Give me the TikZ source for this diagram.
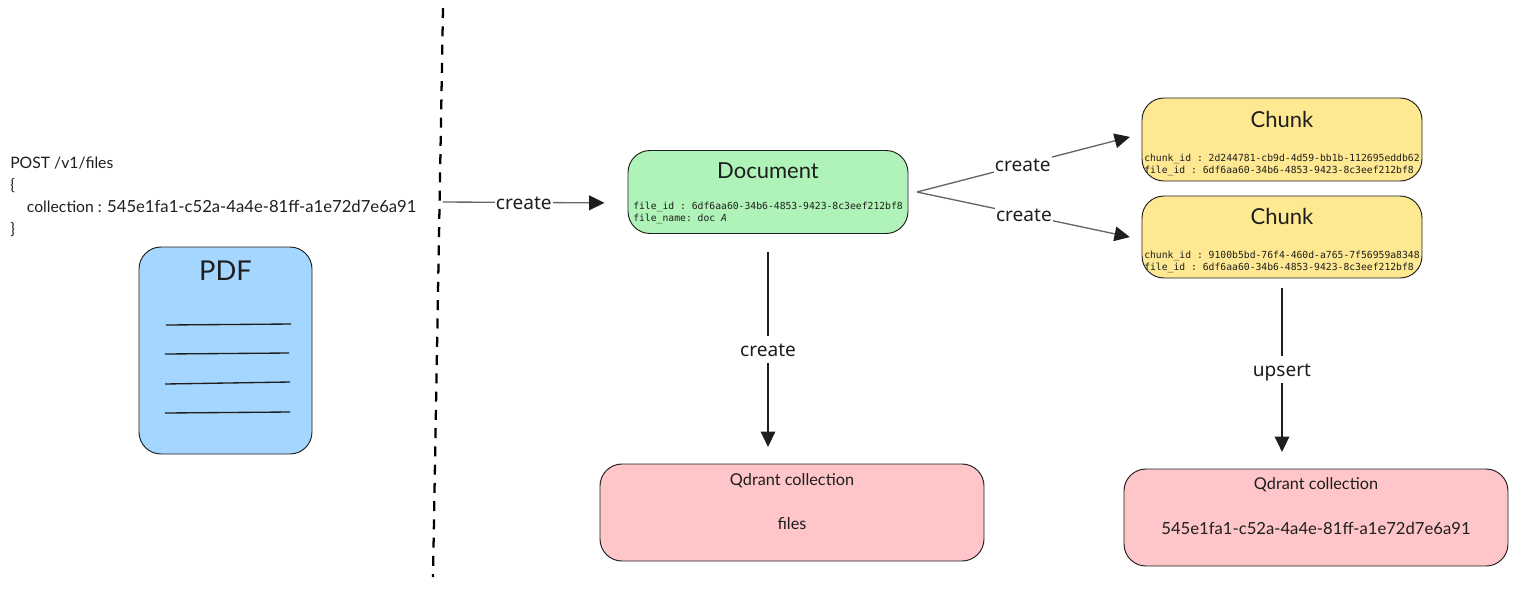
\documentclass[tikz,border=0pt]{standalone}
\usepackage{fontspec}
\usetikzlibrary{arrows.meta}
\setmainfont{Lato}
\setmonofont{DejaVu Sans Mono}
\newfontfamily\labelfont{Noto Sans}
\definecolor{pdfblue}{HTML}{A4D6FF}
\definecolor{docgreen}{HTML}{B0F3B8}
\definecolor{chunkyellow}{HTML}{FEE992}
\definecolor{qdrantred}{HTML}{FFC6C9}
\definecolor{inkdark}{HTML}{1E1E1E}
\newcommand{\collid}{{\fontsize{12.5}{13}\selectfont 545e1fa1-c52a-4a4e-81ff-a1e72d7e6a91}}
\tikzset{
  box/.style={rectangle, rounded corners=16.5pt, draw=inkdark, line width=0.7pt, inner sep=0pt},
  title/.style={inner sep=0pt, text=inkdark, font=\fontsize{16.5}{18}\selectfont},
  fields/.style={inner sep=0pt, align=left, anchor=west, text=inkdark, font=\ttfamily\fontsize{7.3}{9.6}\selectfont},
  qtext/.style={inner sep=0pt, text=inkdark, font=\fontsize{12.2}{13}\selectfont},
  edgelabel/.style={fill=white, inner xsep=1pt, inner ysep=2pt, text height=13.5pt, text depth=3pt, text=inkdark, font=\labelfont\fontsize{14.3}{16}\selectfont},
  thinarrow/.style={draw=black!60, line width=1pt, -{Triangle[length=11.5pt,width=11pt,color=inkdark]}},
  bigarrow/.style={draw=inkdark, line width=1.2pt, -{Triangle[length=11.5pt,width=11pt]}},
  pdfline/.style={draw=inkdark, line width=1pt}
}
\begin{document}
\begin{tikzpicture}[x=0.75pt,y=-0.75pt]
\useasboundingbox (0,0) rectangle (1517,594);
% request on the left
\node [inner sep=0pt, anchor=west, align=left, text=inkdark, font=\fontsize{11.8}{16.5}\selectfont] (request) at (10,197)
  {POST /v1/files\\\{\\\hspace*{12.5pt}collection : \collid\\\}};
\node [box, fill=pdfblue, minimum width=129.75pt, minimum height=155.25pt] (pdf) at (225.5,350.5) {};
\node [title, font=\fontsize{20.5}{22}\selectfont] (pdftitle) at (225.5,271) {PDF};
\coordinate (la) at (166,325); \coordinate (lb) at (291,324);
\coordinate (lc) at (165,354); \coordinate (ld) at (289,353);
\coordinate (le) at (165,384); \coordinate (lf) at (290,382);
\coordinate (lg) at (165,413); \coordinate (lh) at (290,412);
\draw [pdfline] (la) -- (lb);
\draw [pdfline] (lc) -- (ld);
\draw [pdfline] (le) -- (lf);
\draw [pdfline] (lg) -- (lh);
% separator
\coordinate (septop) at (443,8);
\coordinate (sepbot) at (433,577);
\draw [black, line width=1.7pt, dash pattern=on 7.5pt off 6.2pt] (septop) -- (sepbot);
% boxes
\node [box, fill=docgreen, minimum width=210pt, minimum height=62.25pt] (doc) at (768,192) {};
\node [title] (doctitle) at (768,171) {Document};
\node [fields] (docfields) at (633,213) {file\_id : 6df6aa60-34b6-4853-9423-8c3eef212bf8\\file\_name: doc \textit{A}};
\node [box, fill=chunkyellow, minimum width=210pt, minimum height=62.25pt] (chunka) at (1282,139.5) {};
\node [title] (chunkatitle) at (1282,119) {Chunk};
\node [fields] (chunkafields) at (1144,165) {chunk\_id : 2d244781-cb9d-4d59-bb1b-112695eddb62\\file\_id : 6df6aa60-34b6-4853-9423-8c3eef212bf8};
\node [box, fill=chunkyellow, minimum width=210pt, minimum height=61.5pt] (chunkb) at (1282,237) {};
\node [title] (chunkbtitle) at (1282,216) {Chunk};
\node [fields] (chunkbfields) at (1144,262) {chunk\_id : 9100b5bd-76f4-460d-a765-7f56959a8348\\file\_id : 6df6aa60-34b6-4853-9423-8c3eef212bf8};
\node [box, fill=qdrantred, minimum width=288pt, minimum height=72.75pt] (qfiles) at (792,512.5) {};
\node [qtext] (qfilestitle) at (792,481) {Qdrant collection};
\node [qtext] (qfilesname) at (792,524) {files};
\node [box, fill=qdrantred, minimum width=288pt, minimum height=72.75pt] (qchunks) at (1316,517.5) {};
\node [qtext] (qchunkstitle) at (1316,485) {Qdrant collection};
\node [qtext] (qchunksname) at (1316,528) {\collid};
% connectors
\coordinate (reqstart) at (443,202);
\coordinate (fork) at (917,192);
\draw [thinarrow, shorten >=17.25pt] (reqstart) -- ([yshift=-8.25pt]doc.west) node [edgelabel, pos=0.438] (createa) {create};
\draw [thinarrow, shorten >=9pt] (fork) -- ([yshift=4.2pt]chunka.west) node [edgelabel, pos=0.471] (createb) {create};
\draw [thinarrow, shorten >=9pt] (fork) -- ([yshift=-1.9pt]chunkb.west) node [edgelabel, pos=0.476] (createc) {create};
\draw [bigarrow, shorten <=13.5pt, shorten >=12.5pt] (doc.south) -- (qfiles.north -| doc.south) node [edgelabel, pos=0.502] (created) {create};
\draw [bigarrow, shorten <=7.5pt, shorten >=12.5pt] (chunkb.south) -- (qchunks.north -| chunkb.south) node [edgelabel, pos=0.479] (upsert) {upsert};
\end{tikzpicture}
\end{document}
